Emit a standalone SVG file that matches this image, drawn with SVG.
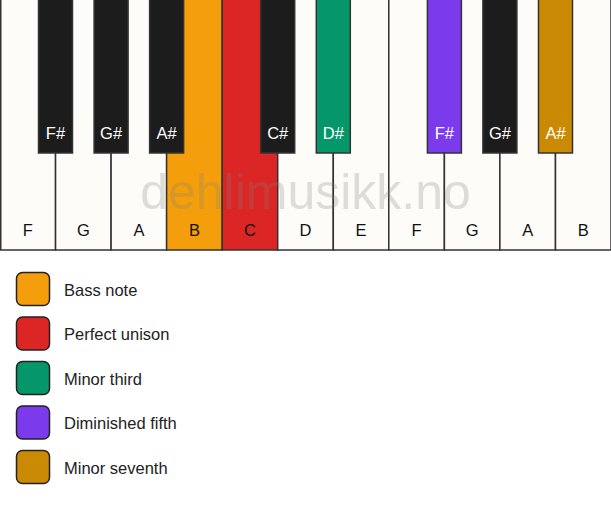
<svg xmlns="http://www.w3.org/2000/svg" width="611" height="506" viewBox="0 0 611 506">
<style>
.w{fill:#fdfcf8;stroke:#333;stroke-width:1.5}
.b{fill:#1c1c1c;stroke:#333;stroke-width:1.5}
.lw{font-family:"Liberation Sans",Arial,sans-serif;font-size:16.5px;fill:#111;text-anchor:middle}
.lb{font-family:"Liberation Sans",Arial,sans-serif;font-size:16.5px;fill:#fff;text-anchor:middle}
.lg{font-family:"Liberation Sans",Arial,sans-serif;font-size:16.5px;fill:#222}
.sw{stroke:#222;stroke-width:1.5}
.wm{font-family:"Liberation Sans",Arial,sans-serif;font-size:50px;fill:#808080;opacity:0.25;text-anchor:middle}
</style>
<rect width="611" height="506" fill="#ffffff"/>
<g id="white-keys">
<g id="wk-F1"><rect class="w" x="0.75" y="-2" width="54.8" height="252"/><text class="lw" x="27.8" y="236">F</text></g>
<g id="wk-G1"><rect class="w" x="55.55" y="-2" width="55.55" height="252"/><text class="lw" x="83.3" y="236">G</text></g>
<g id="wk-A1"><rect class="w" x="111.1" y="-2" width="55.55" height="252"/><text class="lw" x="138.9" y="236">A</text></g>
<g id="wk-B1"><rect class="w" x="166.6" y="-2" width="55.55" height="252" style="fill:#f59e0b"/><text class="lw" x="194.4" y="236">B</text></g>
<g id="wk-C"><rect class="w" x="222.2" y="-2" width="55.55" height="252" style="fill:#dc2626"/><text class="lw" x="250" y="236">C</text></g>
<g id="wk-D"><rect class="w" x="277.7" y="-2" width="55.55" height="252"/><text class="lw" x="305.5" y="236">D</text></g>
<g id="wk-E"><rect class="w" x="333.3" y="-2" width="55.55" height="252"/><text class="lw" x="361.1" y="236">E</text></g>
<g id="wk-F2"><rect class="w" x="388.8" y="-2" width="55.55" height="252"/><text class="lw" x="416.6" y="236">F</text></g>
<g id="wk-G2"><rect class="w" x="444.4" y="-2" width="55.55" height="252"/><text class="lw" x="472.2" y="236">G</text></g>
<g id="wk-A2"><rect class="w" x="499.9" y="-2" width="55.55" height="252"/><text class="lw" x="527.7" y="236">A</text></g>
<g id="wk-B2"><rect class="w" x="555.5" y="-2" width="55.5" height="252"/><text class="lw" x="583.2" y="236">B</text></g>
</g>
<text class="wm" x="305.5" y="209">dehlimusikk.no</text>
<g id="black-keys">
<g id="bk-Fs1"><rect class="b" x="38.5" y="-2" width="34" height="155"/><text class="lb" x="55.5" y="139">F#</text></g>
<g id="bk-Gs1"><rect class="b" x="94.1" y="-2" width="34" height="155"/><text class="lb" x="111.1" y="139">G#</text></g>
<g id="bk-As1"><rect class="b" x="149.6" y="-2" width="34" height="155"/><text class="lb" x="166.6" y="139">A#</text></g>
<g id="bk-Cs"><rect class="b" x="260.7" y="-2" width="34" height="155"/><text class="lb" x="277.7" y="139">C#</text></g>
<g id="bk-Ds"><rect class="b" x="316.3" y="-2" width="34" height="155" style="fill:#059669"/><text class="lb" x="333.3" y="139">D#</text></g>
<g id="bk-Fs2"><rect class="b" x="427.4" y="-2" width="34" height="155" style="fill:#7c3aed"/><text class="lb" x="444.4" y="139">F#</text></g>
<g id="bk-Gs2"><rect class="b" x="482.9" y="-2" width="34" height="155"/><text class="lb" x="499.9" y="139">G#</text></g>
<g id="bk-As2"><rect class="b" x="538.5" y="-2" width="34" height="155" style="fill:#ca8a04"/><text class="lb" x="555.5" y="139">A#</text></g>
</g>
<g id="connectors"/>
<g id="legend">
<g id="lg-bass"><rect class="sw" x="16.5" y="272.5" width="33" height="33" rx="6" fill="#f59e0b"/><text class="lg" x="64" y="295.5">Bass note</text></g>
<g id="lg-unison"><rect class="sw" x="16.5" y="317" width="33" height="33" rx="6" fill="#dc2626"/><text class="lg" x="64" y="340">Perfect unison</text></g>
<g id="lg-m3"><rect class="sw" x="16.5" y="361.5" width="33" height="33" rx="6" fill="#059669"/><text class="lg" x="64" y="384.5">Minor third</text></g>
<g id="lg-d5"><rect class="sw" x="16.5" y="406" width="33" height="33" rx="6" fill="#7c3aed"/><text class="lg" x="64" y="429">Diminished fifth</text></g>
<g id="lg-m7"><rect class="sw" x="16.5" y="450.5" width="33" height="33" rx="6" fill="#ca8a04"/><text class="lg" x="64" y="473.5">Minor seventh</text></g>
</g>
</svg>
